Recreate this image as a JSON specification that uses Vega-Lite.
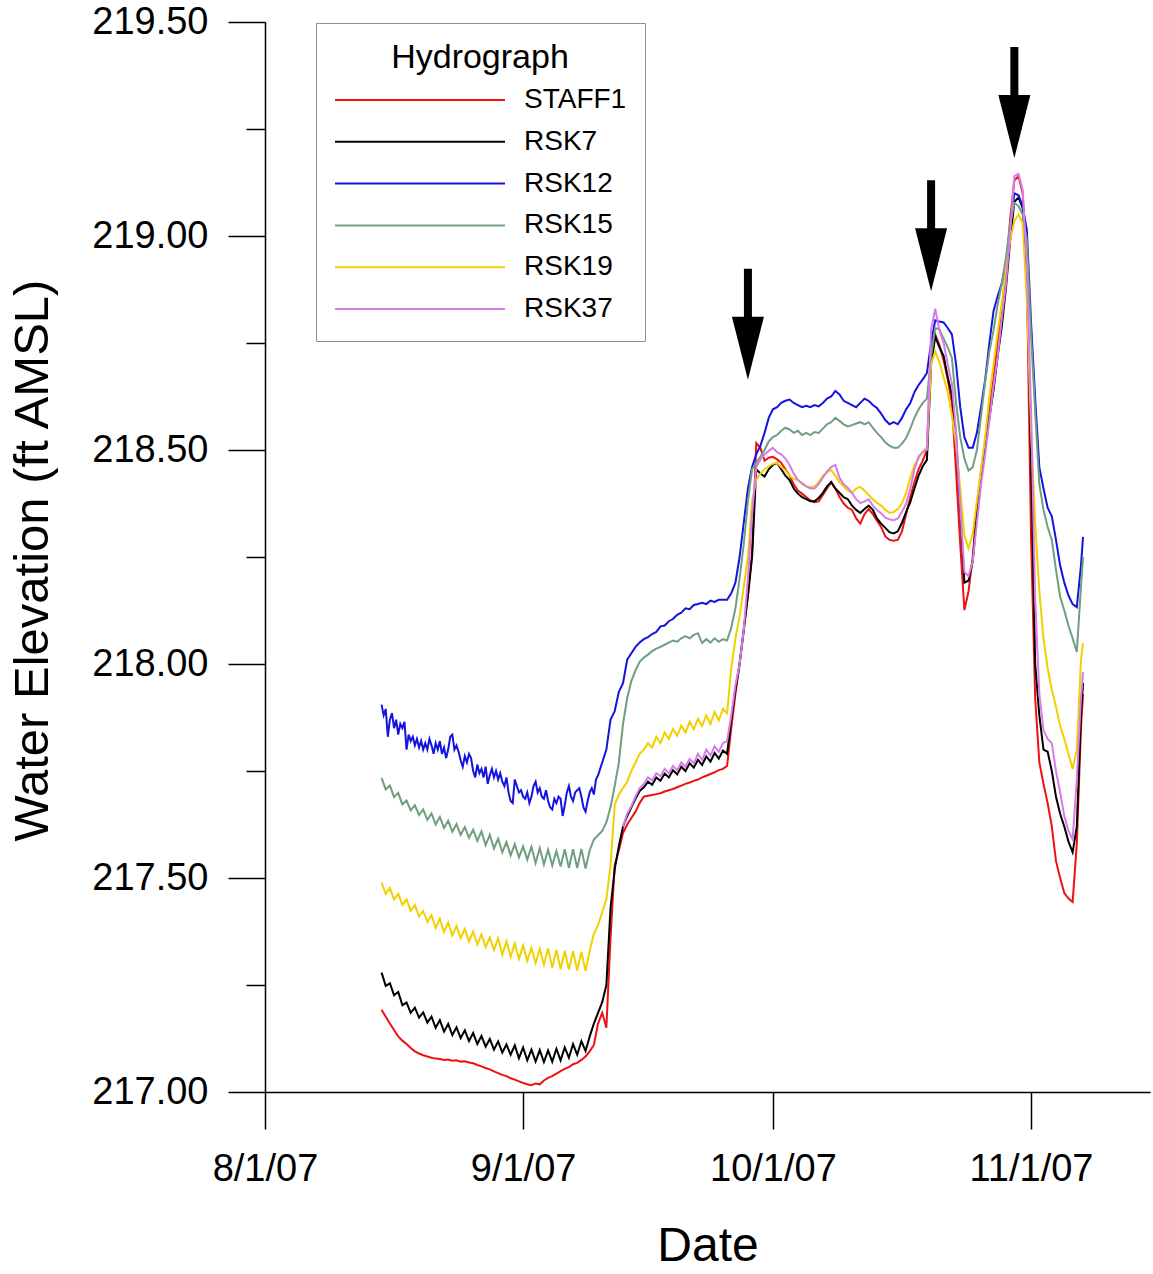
{
  "$schema": "https://vega.github.io/schema/vega-lite/v6.json",
  "width": 885,
  "height": 1070,
  "autosize": {"type": "none"},
  "padding": {"left": 265, "top": 22, "right": 3, "bottom": 182},
  "background": "white",
  "config": {
    "font": "Liberation Sans",
    "view": {"stroke": null},
    "axis": {"domainColor": "black", "tickColor": "black", "labelColor": "black", "titleColor": "black", "titleFontWeight": "normal", "grid": false, "domainWidth": 1.5, "tickWidth": 1.5}
  },
  "encoding": {
    "x": {
      "field": "t", "type": "temporal", "title": "Date",
      "scale": {"domain": [{"year": 2007, "month": 8, "date": 1}, {"year": 2007, "month": 11, "date": 15, "hours": 7}]},
      "axis": {
        "values": [{"year": 2007, "month": 8, "date": 1}, {"year": 2007, "month": 9, "date": 1}, {"year": 2007, "month": 10, "date": 1}, {"year": 2007, "month": 11, "date": 1}],
        "format": "%-m/%-d/%y", "tickSize": 37, "labelPadding": 21, "labelFontSize": 38,
        "labelFlush": false, "labelOverlap": false,
        "titleFontSize": 48, "titleX": 442.5, "titleY": 168, "titleBaseline": "alphabetic"
      }
    },
    "y": {
      "field": "v", "type": "quantitative", "title": "Water Elevation (ft AMSL)",
      "scale": {"domain": [217, 219.5], "nice": false, "zero": false},
      "axis": {
        "values": [217, 217.25, 217.5, 217.75, 218, 218.25, 218.5, 218.75, 219, 219.25, 219.5],
        "labelExpr": "datum.value % 0.5 === 0 ? format(datum.value, '.2f') : ''",
        "tickSize": {"condition": {"test": "datum.value % 0.5 !== 0", "value": 19}, "value": 37},
        "labelPadding": 20, "labelFontSize": 38, "labelOverlap": false, "labelFlush": false,
        "titleFontSize": 49, "titleAngle": 270, "titleBaseline": "alphabetic", "titleAlign": "center", "titleX": -218, "titleY": 538
      }
    }
  },
  "layer": [
    {
      "data": {"values": [
{"t":"2007-08-15T00:00","STAFF1":217.192,"RSK7":217.279,"RSK12":217.905,"RSK15":217.734,"RSK19":217.490},
{"t":"2007-08-15T06:00","RSK12":217.88},
{"t":"2007-08-15T12:00","STAFF1":217.176,"RSK7":217.248,"RSK12":217.895,"RSK15":217.707,"RSK19":217.463},
{"t":"2007-08-15T18:00","RSK12":217.83},
{"t":"2007-08-16T00:00","STAFF1":217.16,"RSK7":217.254,"RSK12":217.87,"RSK15":217.716,"RSK19":217.477},
{"t":"2007-08-16T06:00","RSK12":217.885},
{"t":"2007-08-16T12:00","STAFF1":217.145,"RSK7":217.226,"RSK12":217.85,"RSK15":217.689,"RSK19":217.45},
{"t":"2007-08-16T18:00","RSK12":217.87},
{"t":"2007-08-17T00:00","STAFF1":217.13,"RSK7":217.234,"RSK12":217.835,"RSK15":217.699,"RSK19":217.463},
{"t":"2007-08-17T06:00","RSK12":217.86},
{"t":"2007-08-17T12:00","STAFF1":217.12,"RSK7":217.203,"RSK12":217.85,"RSK15":217.672,"RSK19":217.437},
{"t":"2007-08-17T18:00","RSK12":217.865},
{"t":"2007-08-18T00:00","STAFF1":217.112,"RSK7":217.209,"RSK12":217.80,"RSK15":217.681,"RSK19":217.45},
{"t":"2007-08-18T06:00","RSK12":217.835},
{"t":"2007-08-18T12:00","STAFF1":217.103,"RSK7":217.185,"RSK12":217.82,"RSK15":217.658,"RSK19":217.423},
{"t":"2007-08-18T18:00","RSK12":217.83},
{"t":"2007-08-19T00:00","STAFF1":217.095,"RSK7":217.197,"RSK12":217.81,"RSK15":217.67,"RSK19":217.437},
{"t":"2007-08-19T06:00","RSK12":217.825},
{"t":"2007-08-19T12:00","STAFF1":217.09,"RSK7":217.174,"RSK12":217.805,"RSK15":217.647,"RSK19":217.41},
{"t":"2007-08-19T18:00","RSK12":217.82},
{"t":"2007-08-20T00:00","STAFF1":217.086,"RSK7":217.186,"RSK12":217.80,"RSK15":217.66,"RSK19":217.423},
{"t":"2007-08-20T06:00","RSK12":217.815},
{"t":"2007-08-20T12:00","STAFF1":217.083,"RSK7":217.162,"RSK12":217.80,"RSK15":217.636,"RSK19":217.397},
{"t":"2007-08-20T18:00","RSK12":217.825},
{"t":"2007-08-21T00:00","STAFF1":217.08,"RSK7":217.176,"RSK12":217.81,"RSK15":217.651,"RSK19":217.413},
{"t":"2007-08-21T06:00","RSK12":217.79},
{"t":"2007-08-21T12:00","STAFF1":217.078,"RSK7":217.15,"RSK12":217.815,"RSK15":217.625,"RSK19":217.383},
{"t":"2007-08-21T18:00","RSK12":217.80},
{"t":"2007-08-22T00:00","STAFF1":217.077,"RSK7":217.168,"RSK12":217.82,"RSK15":217.643,"RSK19":217.405},
{"t":"2007-08-22T06:00","RSK12":217.79},
{"t":"2007-08-22T12:00","STAFF1":217.075,"RSK7":217.141,"RSK12":217.805,"RSK15":217.617,"RSK19":217.374},
{"t":"2007-08-22T18:00","RSK12":217.78},
{"t":"2007-08-23T00:00","STAFF1":217.076,"RSK7":217.159,"RSK12":217.80,"RSK15":217.634,"RSK19":217.396},
{"t":"2007-08-23T06:00","RSK12":217.83},
{"t":"2007-08-23T12:00","STAFF1":217.073,"RSK7":217.133,"RSK12":217.835,"RSK15":217.608,"RSK19":217.366},
{"t":"2007-08-23T18:00","RSK12":217.80},
{"t":"2007-08-24T00:00","STAFF1":217.074,"RSK7":217.151,"RSK12":217.81,"RSK15":217.626,"RSK19":217.388},
{"t":"2007-08-24T06:00","RSK12":217.795},
{"t":"2007-08-24T12:00","STAFF1":217.071,"RSK7":217.126,"RSK12":217.775,"RSK15":217.601,"RSK19":217.359},
{"t":"2007-08-24T18:00","RSK12":217.76},
{"t":"2007-08-25T00:00","STAFF1":217.072,"RSK7":217.144,"RSK12":217.785,"RSK15":217.619,"RSK19":217.381},
{"t":"2007-08-25T06:00","RSK12":217.77},
{"t":"2007-08-25T12:00","STAFF1":217.069,"RSK7":217.119,"RSK12":217.79,"RSK15":217.594,"RSK19":217.352},
{"t":"2007-08-25T18:00","RSK12":217.78},
{"t":"2007-08-26T00:00","STAFF1":217.067,"RSK7":217.138,"RSK12":217.75,"RSK15":217.613,"RSK19":217.375},
{"t":"2007-08-26T06:00","RSK12":217.735},
{"t":"2007-08-26T12:00","STAFF1":217.063,"RSK7":217.112,"RSK12":217.765,"RSK15":217.587,"RSK19":217.345},
{"t":"2007-08-26T18:00","RSK12":217.745},
{"t":"2007-08-27T00:00","STAFF1":217.06,"RSK7":217.131,"RSK12":217.755,"RSK15":217.609,"RSK19":217.368},
{"t":"2007-08-27T06:00","RSK12":217.735},
{"t":"2007-08-27T12:00","STAFF1":217.056,"RSK7":217.106,"RSK12":217.76,"RSK15":217.577,"RSK19":217.339},
{"t":"2007-08-27T18:00","RSK12":217.72},
{"t":"2007-08-28T00:00","STAFF1":217.053,"RSK7":217.124,"RSK12":217.74,"RSK15":217.601,"RSK19":217.361},
{"t":"2007-08-28T06:00","RSK12":217.755},
{"t":"2007-08-28T12:00","STAFF1":217.048,"RSK7":217.099,"RSK12":217.735,"RSK15":217.569,"RSK19":217.332},
{"t":"2007-08-28T18:00","RSK12":217.75},
{"t":"2007-08-29T00:00","STAFF1":217.044,"RSK7":217.118,"RSK12":217.73,"RSK15":217.592,"RSK19":217.359},
{"t":"2007-08-29T06:00","RSK12":217.745},
{"t":"2007-08-29T12:00","STAFF1":217.04,"RSK7":217.092,"RSK12":217.725,"RSK15":217.56,"RSK19":217.321},
{"t":"2007-08-29T18:00","RSK12":217.715},
{"t":"2007-08-30T00:00","STAFF1":217.037,"RSK7":217.111,"RSK12":217.735,"RSK15":217.584,"RSK19":217.352},
{"t":"2007-08-30T06:00","RSK12":217.70},
{"t":"2007-08-30T12:00","STAFF1":217.032,"RSK7":217.087,"RSK12":217.68,"RSK15":217.553,"RSK19":217.316},
{"t":"2007-08-30T18:00","RSK12":217.675},
{"t":"2007-08-31T00:00","STAFF1":217.029,"RSK7":217.109,"RSK12":217.73,"RSK15":217.579,"RSK19":217.347},
{"t":"2007-08-31T06:00","RSK12":217.715},
{"t":"2007-08-31T12:00","STAFF1":217.025,"RSK7":217.079,"RSK12":217.70,"RSK15":217.548,"RSK19":217.311},
{"t":"2007-08-31T18:00","RSK12":217.705},
{"t":"2007-09-01T00:00","STAFF1":217.021,"RSK7":217.104,"RSK12":217.69,"RSK15":217.574,"RSK19":217.342},
{"t":"2007-09-01T06:00","RSK12":217.685},
{"t":"2007-09-01T12:00","STAFF1":217.018,"RSK7":217.074,"RSK12":217.70,"RSK15":217.543,"RSK19":217.306},
{"t":"2007-09-01T18:00","RSK12":217.675},
{"t":"2007-09-02T00:00","STAFF1":217.016,"RSK7":217.099,"RSK12":217.69,"RSK15":217.573,"RSK19":217.337},
{"t":"2007-09-02T06:00","RSK12":217.715},
{"t":"2007-09-02T12:00","STAFF1":217.02,"RSK7":217.071,"RSK12":217.725,"RSK15":217.535,"RSK19":217.301},
{"t":"2007-09-02T18:00","RSK12":217.70},
{"t":"2007-09-03T00:00","STAFF1":217.018,"RSK7":217.098,"RSK12":217.71,"RSK15":217.57,"RSK19":217.334},
{"t":"2007-09-03T06:00","RSK12":217.69},
{"t":"2007-09-03T12:00","STAFF1":217.027,"RSK7":217.07,"RSK12":217.685,"RSK15":217.532,"RSK19":217.298},
{"t":"2007-09-03T18:00","RSK12":217.705},
{"t":"2007-09-04T00:00","STAFF1":217.033,"RSK7":217.097,"RSK12":217.68,"RSK15":217.566,"RSK19":217.335},
{"t":"2007-09-04T06:00","RSK12":217.665},
{"t":"2007-09-04T12:00","STAFF1":217.037,"RSK7":217.071,"RSK12":217.66,"RSK15":217.529,"RSK19":217.29},
{"t":"2007-09-04T18:00","RSK12":217.685},
{"t":"2007-09-05T00:00","STAFF1":217.043,"RSK7":217.101,"RSK12":217.675,"RSK15":217.563,"RSK19":217.332},
{"t":"2007-09-05T06:00","RSK12":217.69},
{"t":"2007-09-05T12:00","STAFF1":217.049,"RSK7":217.074,"RSK12":217.685,"RSK15":217.527,"RSK19":217.287},
{"t":"2007-09-05T18:00","RSK12":217.645},
{"t":"2007-09-06T00:00","STAFF1":217.054,"RSK7":217.104,"RSK12":217.67,"RSK15":217.567,"RSK19":217.33},
{"t":"2007-09-06T06:00","RSK12":217.70},
{"t":"2007-09-06T12:00","STAFF1":217.058,"RSK7":217.08,"RSK12":217.715,"RSK15":217.523,"RSK19":217.286},
{"t":"2007-09-06T18:00","RSK12":217.69},
{"t":"2007-09-07T00:00","STAFF1":217.065,"RSK7":217.112,"RSK12":217.68,"RSK15":217.567,"RSK19":217.329},
{"t":"2007-09-07T06:00","RSK12":217.70},
{"t":"2007-09-07T12:00","STAFF1":217.068,"RSK7":217.087,"RSK12":217.705,"RSK15":217.523,"RSK19":217.284},
{"t":"2007-09-07T18:00","RSK12":217.71},
{"t":"2007-09-08T00:00","STAFF1":217.075,"RSK7":217.119,"RSK12":217.69,"RSK15":217.568,"RSK19":217.327},
{"t":"2007-09-08T06:00","RSK12":217.665},
{"t":"2007-09-08T12:00","STAFF1":217.083,"RSK7":217.096,"RSK12":217.655,"RSK15":217.522,"RSK19":217.283},
{"t":"2007-09-08T18:00","RSK12":217.68},
{"t":"2007-09-09T00:00","STAFF1":217.095,"RSK7":217.13,"RSK12":217.70,"RSK15":217.565,"RSK19":217.33},
{"t":"2007-09-09T06:00","RSK12":217.71},
{"t":"2007-09-09T12:00","STAFF1":217.11,"RSK7":217.16,"RSK12":217.695,"RSK15":217.59,"RSK19":217.37},
{"t":"2007-09-09T18:00","RSK12":217.73},
{"t":"2007-09-10T00:00","STAFF1":217.16,"RSK7":217.185,"RSK12":217.74,"RSK15":217.60,"RSK19":217.39},
{"t":"2007-09-10T12:00","STAFF1":217.185,"RSK7":217.21,"RSK12":217.77,"RSK15":217.61,"RSK19":217.42},
{"t":"2007-09-11T00:00","STAFF1":217.15,"RSK7":217.25,"RSK12":217.80,"RSK15":217.63,"RSK19":217.45},
{"t":"2007-09-11T12:00","STAFF1":217.36,"RSK7":217.43,"RSK12":217.87,"RSK15":217.665,"RSK19":217.53},
{"t":"2007-09-12T00:00","STAFF1":217.53,"RSK7":217.52,"RSK12":217.89,"RSK15":217.715,"RSK19":217.67},
{"t":"2007-09-12T12:00","STAFF1":217.565,"RSK7":217.575,"RSK12":217.935,"RSK15":217.77,"RSK19":217.695},
{"t":"2007-09-13T00:00","STAFF1":217.605,"RSK7":217.62,"RSK12":217.955,"RSK15":217.86,"RSK19":217.71,"RSK37":217.62},
{"t":"2007-09-13T12:00","STAFF1":217.625,"RSK7":217.645,"RSK12":218.01,"RSK15":217.92,"RSK19":217.725,"RSK37":217.65},
{"t":"2007-09-14T00:00","STAFF1":217.64,"RSK7":217.665,"RSK12":218.025,"RSK15":217.96,"RSK19":217.75,"RSK37":217.668},
{"t":"2007-09-14T12:00","STAFF1":217.655,"RSK7":217.685,"RSK12":218.04,"RSK15":217.985,"RSK19":217.77,"RSK37":217.69},
{"t":"2007-09-15T00:00","STAFF1":217.675,"RSK7":217.703,"RSK12":218.05,"RSK15":218.005,"RSK19":217.79,"RSK37":217.71},
{"t":"2007-09-15T12:00","STAFF1":217.69,"RSK7":217.712,"RSK12":218.058,"RSK15":218.015,"RSK19":217.80,"RSK37":217.72},
{"t":"2007-09-16T00:00","STAFF1":217.692,"RSK7":217.725,"RSK12":218.063,"RSK15":218.022,"RSK19":217.815,"RSK37":217.735},
{"t":"2007-09-16T12:00","STAFF1":217.694,"RSK7":217.718,"RSK12":218.07,"RSK15":218.03,"RSK19":217.805,"RSK37":217.728},
{"t":"2007-09-17T00:00","STAFF1":217.696,"RSK7":217.735,"RSK12":218.075,"RSK15":218.036,"RSK19":217.83,"RSK37":217.745},
{"t":"2007-09-17T12:00","STAFF1":217.698,"RSK7":217.727,"RSK12":218.088,"RSK15":218.04,"RSK19":217.815,"RSK37":217.738},
{"t":"2007-09-18T00:00","STAFF1":217.702,"RSK7":217.744,"RSK12":218.09,"RSK15":218.045,"RSK19":217.84,"RSK37":217.755},
{"t":"2007-09-18T12:00","STAFF1":217.705,"RSK7":217.735,"RSK12":218.10,"RSK15":218.05,"RSK19":217.825,"RSK37":217.745},
{"t":"2007-09-19T00:00","STAFF1":217.708,"RSK7":217.752,"RSK12":218.105,"RSK15":218.055,"RSK19":217.848,"RSK37":217.762},
{"t":"2007-09-19T12:00","STAFF1":217.712,"RSK7":217.742,"RSK12":218.115,"RSK15":218.052,"RSK19":217.832,"RSK37":217.752},
{"t":"2007-09-20T00:00","STAFF1":217.716,"RSK7":217.76,"RSK12":218.12,"RSK15":218.06,"RSK19":217.856,"RSK37":217.77},
{"t":"2007-09-20T12:00","STAFF1":217.72,"RSK7":217.75,"RSK12":218.13,"RSK15":218.065,"RSK19":217.84,"RSK37":217.76},
{"t":"2007-09-21T00:00","STAFF1":217.723,"RSK7":217.768,"RSK12":218.128,"RSK15":218.06,"RSK19":217.865,"RSK37":217.778},
{"t":"2007-09-21T12:00","STAFF1":217.727,"RSK7":217.758,"RSK12":218.138,"RSK15":218.068,"RSK19":217.848,"RSK37":217.768},
{"t":"2007-09-22T00:00","STAFF1":217.73,"RSK7":217.776,"RSK12":218.14,"RSK15":218.072,"RSK19":217.872,"RSK37":217.79},
{"t":"2007-09-22T12:00","STAFF1":217.735,"RSK7":217.764,"RSK12":218.143,"RSK15":218.049,"RSK19":217.855,"RSK37":217.776},
{"t":"2007-09-23T00:00","STAFF1":217.739,"RSK7":217.784,"RSK12":218.14,"RSK15":218.058,"RSK19":217.88,"RSK37":217.80},
{"t":"2007-09-23T12:00","STAFF1":217.743,"RSK7":217.772,"RSK12":218.148,"RSK15":218.05,"RSK19":217.86,"RSK37":217.786},
{"t":"2007-09-24T00:00","STAFF1":217.747,"RSK7":217.792,"RSK12":218.145,"RSK15":218.06,"RSK19":217.888,"RSK37":217.808},
{"t":"2007-09-24T12:00","STAFF1":217.752,"RSK7":217.779,"RSK12":218.15,"RSK15":218.052,"RSK19":217.868,"RSK37":217.795},
{"t":"2007-09-25T00:00","STAFF1":217.755,"RSK7":217.798,"RSK12":218.15,"RSK15":218.058,"RSK19":217.895,"RSK37":217.815},
{"t":"2007-09-25T12:00","STAFF1":217.762,"RSK7":217.79,"RSK12":218.15,"RSK15":218.055,"RSK19":217.885,"RSK37":217.82},
{"t":"2007-09-26T00:00","STAFF1":217.85,"RSK7":217.87,"RSK12":218.165,"RSK15":218.085,"RSK19":217.99,"RSK37":217.88},
{"t":"2007-09-26T12:00","STAFF1":217.93,"RSK7":217.94,"RSK12":218.19,"RSK15":218.13,"RSK19":218.06,"RSK37":217.95},
{"t":"2007-09-27T00:00","STAFF1":218.00,"RSK7":218.00,"RSK12":218.25,"RSK15":218.20,"RSK19":218.11,"RSK37":218.00},
{"t":"2007-09-27T12:00","STAFF1":218.08,"RSK7":218.08,"RSK12":218.33,"RSK15":218.28,"RSK19":218.18,"RSK37":218.08},
{"t":"2007-09-28T00:00","STAFF1":218.16,"RSK7":218.16,"RSK12":218.41,"RSK15":218.38,"RSK19":218.25,"RSK37":218.20},
{"t":"2007-09-28T12:00","STAFF1":218.26,"RSK7":218.25,"RSK12":218.46,"RSK15":218.455,"RSK19":218.38,"RSK37":218.35},
{"t":"2007-09-29T00:00","STAFF1":218.516,"RSK7":218.455,"RSK12":218.49,"RSK15":218.47,"RSK19":218.43,"RSK37":218.46},
{"t":"2007-09-29T12:00","STAFF1":218.505,"RSK7":218.445,"RSK12":218.51,"RSK15":218.485,"RSK19":218.445,"RSK37":218.478},
{"t":"2007-09-30T00:00","STAFF1":218.475,"RSK7":218.438,"RSK12":218.54,"RSK15":218.50,"RSK19":218.455,"RSK37":218.49},
{"t":"2007-09-30T12:00","STAFF1":218.482,"RSK7":218.455,"RSK12":218.575,"RSK15":218.52,"RSK19":218.462,"RSK37":218.498},
{"t":"2007-10-01T00:00","STAFF1":218.484,"RSK7":218.465,"RSK12":218.595,"RSK15":218.53,"RSK19":218.468,"RSK37":218.505},
{"t":"2007-10-01T12:00","STAFF1":218.478,"RSK7":218.47,"RSK12":218.60,"RSK15":218.535,"RSK19":218.47,"RSK37":218.495},
{"t":"2007-10-02T00:00","STAFF1":218.47,"RSK7":218.455,"RSK12":218.61,"RSK15":218.545,"RSK19":218.46,"RSK37":218.49},
{"t":"2007-10-02T12:00","STAFF1":218.455,"RSK7":218.44,"RSK12":218.615,"RSK15":218.552,"RSK19":218.452,"RSK37":218.48},
{"t":"2007-10-03T00:00","STAFF1":218.44,"RSK7":218.43,"RSK12":218.618,"RSK15":218.548,"RSK19":218.44,"RSK37":218.465},
{"t":"2007-10-03T12:00","STAFF1":218.42,"RSK7":218.41,"RSK12":218.61,"RSK15":218.54,"RSK19":218.432,"RSK37":218.445},
{"t":"2007-10-04T00:00","STAFF1":218.405,"RSK7":218.398,"RSK12":218.605,"RSK15":218.545,"RSK19":218.43,"RSK37":218.43},
{"t":"2007-10-04T12:00","STAFF1":218.398,"RSK7":218.39,"RSK12":218.60,"RSK15":218.535,"RSK19":218.42,"RSK37":218.423},
{"t":"2007-10-05T00:00","STAFF1":218.39,"RSK7":218.385,"RSK12":218.603,"RSK15":218.54,"RSK19":218.415,"RSK37":218.415},
{"t":"2007-10-05T12:00","STAFF1":218.382,"RSK7":218.38,"RSK12":218.60,"RSK15":218.535,"RSK19":218.413,"RSK37":218.41},
{"t":"2007-10-06T00:00","STAFF1":218.378,"RSK7":218.38,"RSK12":218.605,"RSK15":218.542,"RSK19":218.415,"RSK37":218.41},
{"t":"2007-10-06T12:00","STAFF1":218.38,"RSK7":218.388,"RSK12":218.602,"RSK15":218.54,"RSK19":218.425,"RSK37":218.42},
{"t":"2007-10-07T00:00","STAFF1":218.395,"RSK7":218.40,"RSK12":218.61,"RSK15":218.55,"RSK19":218.44,"RSK37":218.435},
{"t":"2007-10-07T12:00","STAFF1":218.41,"RSK7":218.415,"RSK12":218.62,"RSK15":218.56,"RSK19":218.448,"RSK37":218.45},
{"t":"2007-10-08T00:00","STAFF1":218.425,"RSK7":218.425,"RSK12":218.625,"RSK15":218.565,"RSK19":218.453,"RSK37":218.46},
{"t":"2007-10-08T12:00","STAFF1":218.41,"RSK7":218.41,"RSK12":218.638,"RSK15":218.575,"RSK19":218.44,"RSK37":218.465},
{"t":"2007-10-09T00:00","STAFF1":218.39,"RSK7":218.40,"RSK12":218.63,"RSK15":218.568,"RSK19":218.425,"RSK37":218.435},
{"t":"2007-10-09T12:00","STAFF1":218.375,"RSK7":218.39,"RSK12":218.615,"RSK15":218.56,"RSK19":218.415,"RSK37":218.42},
{"t":"2007-10-10T00:00","STAFF1":218.365,"RSK7":218.385,"RSK12":218.61,"RSK15":218.555,"RSK19":218.405,"RSK37":218.412},
{"t":"2007-10-10T12:00","STAFF1":218.36,"RSK7":218.37,"RSK12":218.605,"RSK15":218.558,"RSK19":218.40,"RSK37":218.40},
{"t":"2007-10-11T00:00","STAFF1":218.34,"RSK7":218.36,"RSK12":218.60,"RSK15":218.562,"RSK19":218.41,"RSK37":218.385},
{"t":"2007-10-11T12:00","STAFF1":218.328,"RSK7":218.353,"RSK12":218.61,"RSK15":218.565,"RSK19":218.414,"RSK37":218.376},
{"t":"2007-10-12T00:00","STAFF1":218.35,"RSK7":218.362,"RSK12":218.62,"RSK15":218.56,"RSK19":218.405,"RSK37":218.38},
{"t":"2007-10-12T12:00","STAFF1":218.362,"RSK7":218.37,"RSK12":218.615,"RSK15":218.565,"RSK19":218.395,"RSK37":218.385},
{"t":"2007-10-13T00:00","STAFF1":218.35,"RSK7":218.36,"RSK12":218.605,"RSK15":218.552,"RSK19":218.385,"RSK37":218.37},
{"t":"2007-10-13T12:00","STAFF1":218.335,"RSK7":218.34,"RSK12":218.598,"RSK15":218.54,"RSK19":218.376,"RSK37":218.36},
{"t":"2007-10-14T00:00","STAFF1":218.32,"RSK7":218.328,"RSK12":218.585,"RSK15":218.53,"RSK19":218.37,"RSK37":218.352},
{"t":"2007-10-14T12:00","STAFF1":218.298,"RSK7":218.318,"RSK12":218.57,"RSK15":218.518,"RSK19":218.36,"RSK37":218.342},
{"t":"2007-10-15T00:00","STAFF1":218.29,"RSK7":218.308,"RSK12":218.56,"RSK15":218.51,"RSK19":218.353,"RSK37":218.338},
{"t":"2007-10-15T12:00","STAFF1":218.288,"RSK7":218.305,"RSK12":218.565,"RSK15":218.505,"RSK19":218.355,"RSK37":218.336},
{"t":"2007-10-16T00:00","STAFF1":218.29,"RSK7":218.31,"RSK12":218.56,"RSK15":218.505,"RSK19":218.362,"RSK37":218.34},
{"t":"2007-10-16T12:00","STAFF1":218.31,"RSK7":218.33,"RSK12":218.575,"RSK15":218.515,"RSK19":218.375,"RSK37":218.355},
{"t":"2007-10-17T00:00","STAFF1":218.35,"RSK7":218.355,"RSK12":218.595,"RSK15":218.528,"RSK19":218.40,"RSK37":218.375},
{"t":"2007-10-17T12:00","STAFF1":218.39,"RSK7":218.378,"RSK12":218.61,"RSK15":218.55,"RSK19":218.435,"RSK37":218.41},
{"t":"2007-10-18T00:00","STAFF1":218.425,"RSK7":218.41,"RSK12":218.635,"RSK15":218.575,"RSK19":218.465,"RSK37":218.455},
{"t":"2007-10-18T12:00","STAFF1":218.455,"RSK7":218.44,"RSK12":218.652,"RSK15":218.595,"RSK19":218.48,"RSK37":218.485},
{"t":"2007-10-19T00:00","STAFF1":218.475,"RSK7":218.462,"RSK12":218.665,"RSK15":218.61,"RSK19":218.495,"RSK37":218.495},
{"t":"2007-10-19T12:00","STAFF1":218.50,"RSK7":218.477,"RSK12":218.68,"RSK15":218.62,"RSK19":218.507,"RSK37":218.50},
{"t":"2007-10-20T00:00","STAFF1":218.74,"RSK7":218.70,"RSK12":218.75,"RSK15":218.72,"RSK19":218.70,"RSK37":218.78},
{"t":"2007-10-20T12:00","STAFF1":218.77,"RSK7":218.765,"RSK12":218.803,"RSK15":218.785,"RSK19":218.73,"RSK37":218.83},
{"t":"2007-10-21T00:00","STAFF1":218.745,"RSK7":218.74,"RSK12":218.80,"RSK15":218.782,"RSK19":218.705,"RSK37":218.78},
{"t":"2007-10-21T12:00","STAFF1":218.71,"RSK7":218.72,"RSK12":218.798,"RSK15":218.76,"RSK19":218.67,"RSK37":218.75},
{"t":"2007-10-22T00:00","STAFF1":218.665,"RSK7":218.67,"RSK12":218.785,"RSK15":218.74,"RSK19":218.635,"RSK37":218.70},
{"t":"2007-10-22T12:00","STAFF1":218.61,"RSK7":218.63,"RSK12":218.77,"RSK15":218.715,"RSK19":218.58,"RSK37":218.655},
{"t":"2007-10-23T00:00","STAFF1":218.45,"RSK7":218.535,"RSK12":218.70,"RSK15":218.61,"RSK19":218.515,"RSK37":218.54},
{"t":"2007-10-23T12:00","STAFF1":218.28,"RSK7":218.36,"RSK12":218.60,"RSK15":218.53,"RSK19":218.41,"RSK37":218.37},
{"t":"2007-10-24T00:00","STAFF1":218.126,"RSK7":218.19,"RSK12":218.53,"RSK15":218.48,"RSK19":218.30,"RSK37":218.215},
{"t":"2007-10-24T12:00","STAFF1":218.17,"RSK7":218.195,"RSK12":218.505,"RSK15":218.452,"RSK19":218.27,"RSK37":218.205},
{"t":"2007-10-25T00:00","STAFF1":218.25,"RSK7":218.24,"RSK12":218.505,"RSK15":218.46,"RSK19":218.305,"RSK37":218.24},
{"t":"2007-10-25T12:00","STAFF1":218.37,"RSK7":218.35,"RSK12":218.54,"RSK15":218.50,"RSK19":218.38,"RSK37":218.33},
{"t":"2007-10-26T00:00","STAFF1":218.45,"RSK7":218.43,"RSK12":218.60,"RSK15":218.58,"RSK19":218.455,"RSK37":218.42},
{"t":"2007-10-26T12:00","STAFF1":218.52,"RSK7":218.51,"RSK12":218.665,"RSK15":218.66,"RSK19":218.53,"RSK37":218.49},
{"t":"2007-10-27T00:00","STAFF1":218.59,"RSK7":218.575,"RSK12":218.75,"RSK15":218.73,"RSK19":218.625,"RSK37":218.57},
{"t":"2007-10-27T12:00","STAFF1":218.67,"RSK7":218.64,"RSK12":218.825,"RSK15":218.78,"RSK19":218.70,"RSK37":218.65},
{"t":"2007-10-28T00:00","STAFF1":218.75,"RSK7":218.72,"RSK12":218.86,"RSK15":218.84,"RSK19":218.775,"RSK37":218.72},
{"t":"2007-10-28T12:00","STAFF1":218.83,"RSK7":218.79,"RSK12":218.89,"RSK15":218.89,"RSK19":218.845,"RSK37":218.81},
{"t":"2007-10-29T00:00","STAFF1":218.92,"RSK7":218.88,"RSK12":218.935,"RSK15":218.95,"RSK19":218.925,"RSK37":218.89},
{"t":"2007-10-29T12:00","STAFF1":219.04,"RSK7":218.99,"RSK12":219.02,"RSK15":219.03,"RSK19":218.99,"RSK37":219.01},
{"t":"2007-10-30T00:00","STAFF1":219.13,"RSK7":219.08,"RSK12":219.10,"RSK15":219.077,"RSK19":219.035,"RSK37":219.14},
{"t":"2007-10-30T12:00","STAFF1":219.14,"RSK7":219.09,"RSK12":219.095,"RSK15":219.07,"RSK19":219.05,"RSK37":219.145},
{"t":"2007-10-31T00:00","STAFF1":219.10,"RSK7":219.065,"RSK12":219.07,"RSK15":219.05,"RSK19":219.03,"RSK37":219.107},
{"t":"2007-10-31T12:00","STAFF1":218.91,"RSK7":218.91,"RSK12":219.014,"RSK15":218.99,"RSK19":218.85,"RSK37":218.93},
{"t":"2007-11-01T00:00","STAFF1":218.30,"RSK7":218.49,"RSK12":218.80,"RSK15":218.77,"RSK19":218.55,"RSK37":218.60},
{"t":"2007-11-01T12:00","STAFF1":217.92,"RSK7":218.00,"RSK12":218.62,"RSK15":218.59,"RSK19":218.33,"RSK37":218.15},
{"t":"2007-11-02T00:00","STAFF1":217.77,"RSK7":217.88,"RSK12":218.46,"RSK15":218.42,"RSK19":218.17,"RSK37":217.93},
{"t":"2007-11-02T12:00","STAFF1":217.72,"RSK7":217.80,"RSK12":218.41,"RSK15":218.36,"RSK19":218.06,"RSK37":217.845},
{"t":"2007-11-03T00:00","STAFF1":217.675,"RSK7":217.795,"RSK12":218.365,"RSK15":218.32,"RSK19":217.99,"RSK37":217.825},
{"t":"2007-11-03T12:00","STAFF1":217.62,"RSK7":217.75,"RSK12":218.345,"RSK15":218.29,"RSK19":217.94,"RSK37":217.815},
{"t":"2007-11-04T00:00","STAFF1":217.54,"RSK7":217.69,"RSK12":218.29,"RSK15":218.22,"RSK19":217.90,"RSK37":217.75},
{"t":"2007-11-04T12:00","STAFF1":217.50,"RSK7":217.65,"RSK12":218.23,"RSK15":218.157,"RSK19":217.855,"RSK37":217.70},
{"t":"2007-11-05T00:00","STAFF1":217.465,"RSK7":217.62,"RSK12":218.19,"RSK15":218.125,"RSK19":217.825,"RSK37":217.645},
{"t":"2007-11-05T12:00","STAFF1":217.452,"RSK7":217.585,"RSK12":218.16,"RSK15":218.09,"RSK19":217.79,"RSK37":217.61},
{"t":"2007-11-06T00:00","STAFF1":217.444,"RSK7":217.56,"RSK12":218.14,"RSK15":218.06,"RSK19":217.755,"RSK37":217.59},
{"t":"2007-11-06T12:00","STAFF1":217.58,"RSK7":217.62,"RSK12":218.133,"RSK15":218.028,"RSK19":217.80,"RSK37":217.73},
{"t":"2007-11-07T00:00","STAFF1":217.85,"RSK7":217.88,"RSK12":218.23,"RSK15":218.18,"RSK19":218.01,"RSK37":217.92},
{"t":"2007-11-07T06:00","STAFF1":217.93,"RSK7":217.956,"RSK12":218.297,"RSK15":218.25,"RSK19":218.049,"RSK37":217.981}
      ]},
      "transform": [
        {"fold": ["STAFF1", "RSK7", "RSK12", "RSK15", "RSK19", "RSK37"], "as": ["Hydrograph", "v"]},
        {"filter": "isValid(datum.v)"}
      ],
      "mark": {"type": "line", "strokeWidth": 2},
      "encoding": {
        "color": {
          "field": "Hydrograph", "type": "nominal",
          "scale": {"domain": ["STAFF1", "RSK7", "RSK12", "RSK15", "RSK19", "RSK37"], "range": ["#ee1111", "#000000", "#1414e0", "#6f9f7f", "#f2d000", "#d67ce8"]},
          "legend": {
            "orient": "none", "legendX": 51, "legendY": 1,
            "title": "Hydrograph", "titleFontSize": 34, "titleFontWeight": "normal", "titleColor": "black", "titleAnchor": "middle", "titlePadding": 12,
            "labelFontSize": 28, "labelColor": "black", "labelOffset": 18, "labelLimit": 300,
            "symbolType": "stroke", "symbolSize": 28900, "symbolStrokeWidth": 2,
            "clipHeight": 26, "rowPadding": 13.8, "padding": 18,
            "fillColor": "white", "strokeColor": "#909090"
          }
        }
      }
    },
    {
      "data": {"values": [
        {"t": "2007-09-28T00:00", "v": 218.664},
        {"t": "2007-10-20T00:00", "v": 218.871},
        {"t": "2007-10-30T00:00", "v": 219.182}
      ]},
      "mark": {"type": "point", "shape": "M0,0L-16,-63L-4,-63L-4,-111L4,-111L4,-63L16,-63Z", "size": 4, "filled": true, "color": "black", "opacity": 1, "strokeWidth": 0}
    }
  ]
}
